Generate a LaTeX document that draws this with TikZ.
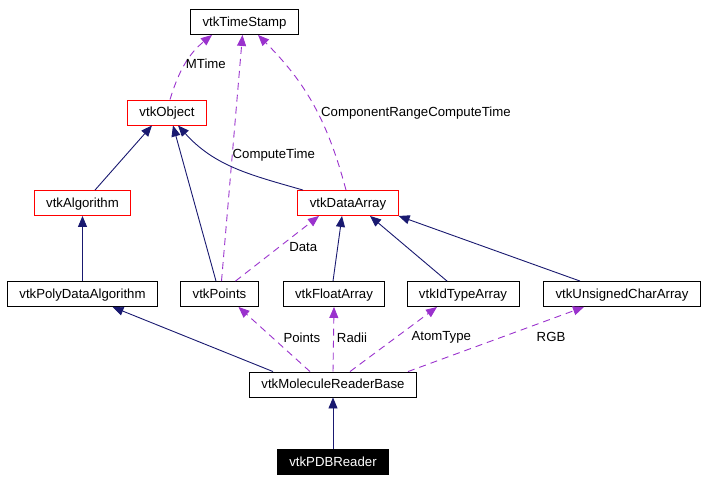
\documentclass[tikz,border=0pt]{standalone}
\usepackage{fontspec}
\setmainfont{Liberation Sans}
\usetikzlibrary{arrows.meta}
\definecolor{inhcol}{RGB}{25,25,112}
\definecolor{usecol}{RGB}{154,50,205}
\newcommand{\dxfont}{\fontsize{13.2}{15}\selectfont}

\begin{document}
\begin{tikzpicture}[x=1pt,y=1pt,>={Triangle[length=11pt,width=9pt]},
		cls/.style={rectangle,draw=black,line width=0.9pt,minimum height=25pt,inner xsep=12pt,inner ysep=0pt,text height=9.6pt,text depth=1pt,font=\dxfont},
		redcls/.style={cls,draw=red},
		leaf/.style={cls,fill=black,text=white},
		inh/.style={draw=inhcol,line width=0.9pt},
		usage/.style={draw=usecol,line width=0.9pt,dash pattern=on 7pt off 5pt},
		lbl/.style={inner sep=0pt,font=\dxfont}]
		\useasboundingbox (0,0) rectangle (708,-482);
		
		\node[cls]    (ts)   at (244.5,-22)  {vtkTimeStamp};
		\node[redcls] (obj)  at (167,-112.5) {vtkObject};
		\node[redcls] (alg)  at (82.5,-203)  {vtkAlgorithm};
		\node[redcls] (da)   at (348,-203)   {vtkDataArray};
		\node[cls]    (pda)  at (82.5,-294)  {vtkPolyDataAlgorithm};
		\node[cls]    (pts)  at (219.5,-294) {vtkPoints};
		\node[cls]    (fa)   at (334,-294)   {vtkFloatArray};
		\node[cls]    (ida)  at (463,-294)   {vtkIdTypeArray};
		\node[cls]    (uca)  at (622,-294)   {vtkUnsignedCharArray};
		\node[cls]    (mrb)  at (333,-384.5) {vtkMoleculeReaderBase};
		\node[leaf]   (pdb)  at (333,-462)   {vtkPDBReader};
		
		% members (dashed)
		\path[->]
		([xshift=3pt]obj.north) edge[usage,out=73,in=-141] node[lbl,pos=0.5,anchor=west] {MTime} ([xshift=-32.5pt]ts.south)
		([xshift=2pt]pts.north) edge[usage] node[lbl,pos=0.51,anchor=west] {ComputeTime} ([xshift=-2pt]ts.south)
		([xshift=-2pt]da.north) edge[usage,out=105,in=-45] node[lbl,pos=0.45,anchor=west,xshift=3pt] {ComponentRangeComputeTime} ([xshift=13.5pt]ts.south)
		([xshift=16pt]pts.north) edge[usage] node[lbl,pos=0.52,anchor=west,xshift=10pt] {Data} ([xshift=-29pt]da.south)
		([xshift=-23pt]mrb.north) edge[usage] node[lbl,pos=0.53,anchor=west,xshift=11pt] {Points} ([xshift=19pt]pts.south)
		(mrb.north) edge[usage] node[lbl,pos=0.53,anchor=west,xshift=3pt] {Radii} (fa.south)
		([xshift=17pt]mrb.north) edge[usage] node[lbl,pos=0.53,anchor=west,xshift=15pt] {AtomType} ([xshift=-26pt]ida.south)
		([xshift=75pt]mrb.north) edge[usage] node[lbl,pos=0.53,anchor=west,xshift=35pt] {RGB} ([xshift=-38pt]uca.south);
		
		% inheritance
		\path[->]
		([xshift=12.5pt]alg.north) edge[inh] ([xshift=-15pt]obj.south)
		([xshift=-3.5pt]pts.north) edge[inh] ([xshift=6pt]obj.south)
		([xshift=-45pt]da.north) edge[inh,out=164,in=-48] ([xshift=11pt]obj.south)
		(pda.north) edge[inh] (alg.south)
		([xshift=-1pt]fa.north) edge[inh] ([xshift=-6pt]da.south)
		([xshift=-16pt]ida.north) edge[inh] ([xshift=22pt]da.south)
		([xshift=-42pt]uca.north) edge[inh] (da.south east)
		([xshift=-60pt]mrb.north) edge[inh] ([xshift=30pt]pda.south)
		(pdb.north) edge[inh] (mrb.south);
\end{tikzpicture}
\end{document}
